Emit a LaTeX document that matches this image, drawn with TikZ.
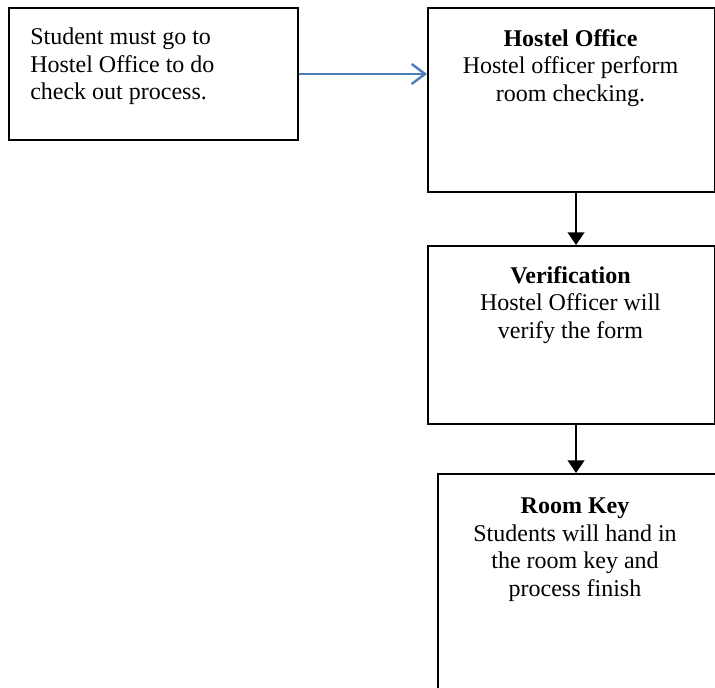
\documentclass[tikz,border=0pt]{standalone}
\usepackage{fontspec}
\setmainfont{Liberation Serif}
\usepackage{tikz}
\usetikzlibrary{arrows.meta, positioning, calc}
\definecolor{mydark}{RGB}{0,0,0}
\definecolor{myblue}{RGB}{74,126,187}
\tikzset{
  block/.style={rectangle, draw=mydark, fill=white, line width=1.5pt,
    anchor=north west, inner sep=0pt},
  blocktext/.style={inner sep=0pt, font=\fontsize{18}{20.6}\selectfont},
  arrow/.style={-{Triangle[length=9.5pt, width=12.5pt]}, line width=1.5pt, color=mydark},
  bluearrow/.style={-{Straight Barb[length=10pt, width=15pt]}, line width=1.8pt, color=myblue}
}

\begin{document}
\begin{tikzpicture}[x=0.75pt, y=-0.75pt]
  \useasboundingbox (0,0) rectangle (715,688);
  \clip (0,0) rectangle (715,688);
  % Blocks
  \node[block, minimum width=289*0.75pt, minimum height=132*0.75pt] (student) at (8,7) {};
  \node[block, minimum width=287*0.75pt, minimum height=184*0.75pt] (office) at (427,7) {};
  \node[block, minimum width=287*0.75pt, minimum height=178*0.75pt] (verify) at (427,245) {};
  \node[block, minimum width=300*0.75pt, minimum height=250*0.75pt] (key) at (437,473) {};

  % Texts
  \node[blocktext, anchor=north west, align=left] (studenttxt) at (30,28)
    {Student must go to\\Hostel Office to do\\check out process.};
  \node[blocktext, anchor=north, align=center] (officetxt) at (570.5,29)
    {\textbf{Hostel Office}\\Hostel officer perform\\room checking.};
  \node[blocktext, anchor=north, align=center] (verifytxt) at (570.5,266)
    {\textbf{Verification}\\Hostel Officer will\\verify the form};
  \node[blocktext, anchor=north, align=center] (keytxt) at (575,498)
    {\textbf{Room Key}\\Students will hand in\\the room key and\\process finish};

  % Flows
  \draw[bluearrow] (student.east) -- (student.east -| office.west);
  \draw[arrow] ([xshift=3.4pt]office.south) -- ([xshift=3.4pt]verify.north);
  \draw[arrow] ([xshift=3.4pt]verify.south) -- ([xshift=3.4pt]verify.south |- key.north);
\end{tikzpicture}
\end{document}
